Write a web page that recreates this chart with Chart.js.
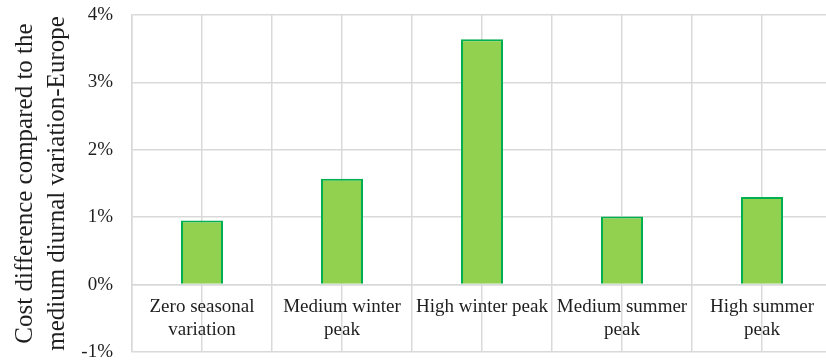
<!DOCTYPE html>
<html>
<head>
<meta charset="utf-8">
<script src="https://cdn.jsdelivr.net/npm/chart.js@4/dist/chart.umd.min.js"></script>
<style>
  html, body { margin: 0; padding: 0; background: #fff; overflow: hidden; }
  #wrap { width: 846px; height: 364px; position: relative; }
</style>
</head>
<body>
<div id="wrap"><canvas id="c"></canvas></div>
<script>
// Scenario categories (wrapped as they are printed under the zero line)
const categories = [
  ["Zero seasonal", "variation"],
  ["Medium winter", "peak"],
  "High winter peak",
  ["Medium summer", "peak"],
  ["High summer", "peak"]
];
// Cost difference, in percent
const costDiff = [0.95, 1.57, 3.64, 1.01, 1.30];
// Value axis range and step (percent)
const yMin = -1, yMax = 4, yStep = 1;
const yTitle = ["Cost difference compared to the", "medium diurnal variation-Europe"];

const serif = "'Liberation Serif', 'Times New Roman', serif";
const gridColor = "#d9d9d9";
const textColor = "#1e1e1e";

// no extra room for edge labels: the plot box is fixed by the layout padding
const noEdgePadding = (scale) => {
  scale.paddingTop = 0; scale.paddingBottom = 0;
  scale.paddingLeft = 0; scale.paddingRight = 0;
};

new Chart(document.getElementById("c"), {
  type: "bar",
  data: {
    labels: categories,
    datasets: [{
      data: costDiff,
      backgroundColor: "#92D050",
      borderColor: "#00B050",
      borderWidth: 2,
      categoryPercentage: 1,
      barPercentage: 0.3
    }]
  },
  options: {
    responsive: true,
    maintainAspectRatio: false,
    animation: false,
    layout: { padding: { left: 0, top: 15, right: 14, bottom: 12 } },
    plugins: { legend: { display: false }, tooltip: { enabled: false } },
    scales: {
      x: {
        type: "category",
        position: { y: 0 },
        offset: true,
        afterFit: noEdgePadding,
        grid: { offset: true, color: gridColor, lineWidth: 1.5, drawTicks: false },
        border: { display: true, color: gridColor, width: 1.5 },
        ticks: {
          font: { family: serif, size: 19, lineHeight: 1.2 },
          color: textColor,
          padding: 11,
          maxRotation: 0,
          autoSkip: false
        }
      },
      // second category axis that only draws the lines through the category centres
      xMid: {
        type: "category",
        position: { y: 0 },
        offset: true,
        afterFit: noEdgePadding,
        grid: { offset: false, color: gridColor, lineWidth: 1.5, drawTicks: false },
        border: { display: false },
        ticks: { display: false }
      },
      y: {
        min: yMin,
        max: yMax,
        grid: { color: gridColor, lineWidth: 1.5, drawTicks: false },
        border: { display: true, color: gridColor, width: 1.5 },
        afterFit: (scale) => { noEdgePadding(scale); scale.width = 132; },
        ticks: {
          stepSize: yStep,
          padding: 19,
          font: { family: serif, size: 19, lineHeight: 1.2 },
          color: textColor,
          callback: (v) => v + "%"
        },
        title: {
          display: true,
          text: yTitle,
          font: { family: serif, size: 25, lineHeight: 1.26 },
          color: textColor,
          padding: { top: 10, bottom: 0 }
        }
      }
    }
  }
});
</script>
</body>
</html>
